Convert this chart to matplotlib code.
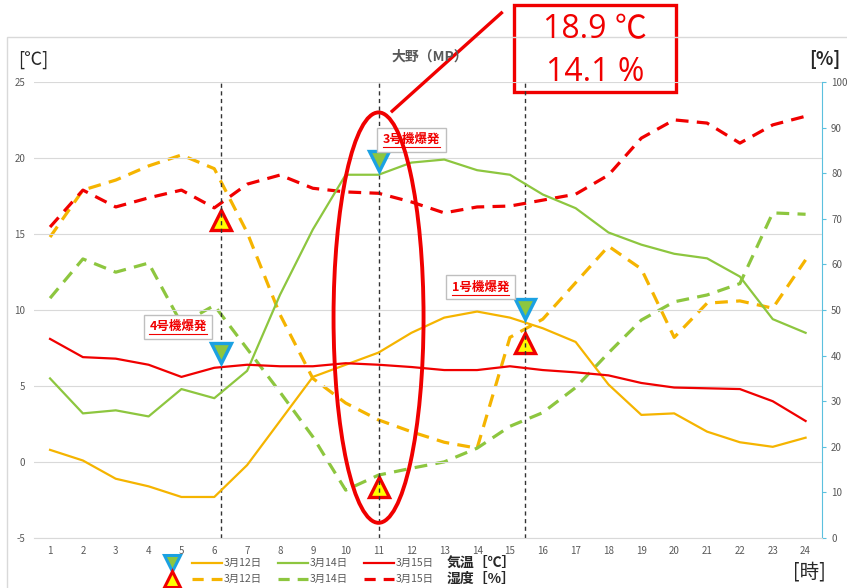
import matplotlib
matplotlib.use("Agg")
import matplotlib.pyplot as plt
from matplotlib.patches import Ellipse, Rectangle
from matplotlib.lines import Line2D

plt.rcParams["font.family"] = ["Noto Sans CJK JP", "DejaVu Sans"]
plt.rcParams["axes.unicode_minus"] = False

# data (hourly, 大野)
hours = list(range(1, 25))
temp_0312 = [0.8, 0.1, -1.1, -1.6, -2.3, -2.3, -0.2, 2.7, 5.6, 6.4, 7.2, 8.5,
             9.5, 9.9, 9.5, 8.8, 7.9, 5.1, 3.1, 3.2, 2.0, 1.3, 1.0, 1.6]
temp_0314 = [5.5, 3.2, 3.4, 3.0, 4.8, 4.2, 6.0, 11.0, 15.3, 18.9, 18.9, 19.7,
             19.9, 19.2, 18.9, 17.6, 16.7, 15.1, 14.3, 13.7, 13.4, 12.2, 9.4, 8.5]
temp_0315 = [8.1, 6.9, 6.8, 6.4, 5.6, 6.2, 6.4, 6.3, 6.3, 6.5, 6.4, 6.25,
             6.05, 6.05, 6.3, 6.05, 5.9, 5.7, 5.2, 4.9, 4.85, 4.8, 4.0, 2.7]
hum_0312 = [66, 76.3, 78.5, 81.6, 84, 81, 67, 49, 35, 29.6, 25.9, 23.3,
            21, 19.7, 44, 48, 56, 64, 59, 44, 51.5, 52, 50.4, 61]
hum_0314 = [52.6, 61.2, 58.3, 60.3, 47, 51, 41.5, 32, 22.2, 10.5, 13.8, 15.3,
            16.7, 19.7, 24.5, 27.5, 33, 40.6, 47.8, 51.8, 53.3, 55.8, 71.3, 71]
hum_0315 = [68.2, 76.3, 72.6, 74.6, 76.3, 72.4, 77.6, 79.6, 76.7, 75.9, 75.6, 73.7,
            71.3, 72.6, 72.8, 74.1, 75.4, 79.6, 87.7, 91.7, 91.0, 86.6, 90.6, 92.5]

# explosions
event_x = [6.2, 11.0, 15.45]
event_temp = [7.2, 19.8, 10.1]
event_hum = [69.7, 11.2, 42.8]
event_labels = ["4号機爆発", "3号機爆発", "1号機爆発"]

series_labels = ["3月12日", "3月14日", "3月15日"]
YELLOW = "#F5B400"
GREEN = "#8DC63F"
RED = "#F00000"
GRAY = "#595959"

fig = plt.figure(figsize=(8.47, 5.88), dpi=100)
ax = fig.add_axes([0.0397, 0.085, 0.9308, 0.7755])
ax2 = ax.twinx()

ax.set_xlim(0.5, 24.5)
ax.set_ylim(-5, 25)
ax2.set_ylim(0, 100)
ax.set_yticks(range(-5, 26, 5))
ax2.set_yticks(range(0, 101, 10))
ax.set_xticks(hours)

ax.grid(axis="y", color="#d9d9d9", lw=0.8)
ax.set_axisbelow(True)
for s in ["left", "top", "right"]:
    ax.spines[s].set_visible(False)
    ax2.spines[s].set_visible(False)
ax.spines["bottom"].set_color("#d9d9d9")
ax2.spines["bottom"].set_visible(False)
ax2.spines["right"].set_visible(True)
ax2.spines["right"].set_color("#5BC0DE")
ax.tick_params(axis="both", length=0, labelsize=7, labelcolor=GRAY, pad=6)
ax2.tick_params(axis="y", length=3, color="#5BC0DE", labelsize=7, labelcolor=GRAY)

ax.set_zorder(ax2.get_zorder() + 1)
ax.patch.set_visible(False)

# vertical explosion lines
for x in event_x:
    ax.axvline(x, color="#333333", lw=1, ls=(0, (3, 2.5)), zorder=1)

# humidity (right axis)
dash = (0, (4, 2.6))
ax2.plot(hours, hum_0312, color=YELLOW, lw=2.3, ls=dash)
ax2.plot(hours, hum_0314, color=GREEN, lw=2.3, ls=dash)
ax2.plot(hours, hum_0315, color=RED, lw=2.3, ls=dash)

# temperature (left axis)
ax.plot(hours, temp_0312, color=YELLOW, lw=1.6, zorder=3)
ax.plot(hours, temp_0314, color=GREEN, lw=1.6, zorder=3)
ax.plot(hours, temp_0315, color=RED, lw=1.6, zorder=3)

# markers
ax.plot(event_x, event_temp, ls="none", marker="v", ms=14, mfc=GREEN,
        mec="#1BA1E2", mew=2.4, zorder=5)
ax2.plot(event_x, event_hum, ls="none", marker="^", ms=14, mfc="#FFFF00",
         mec=RED, mew=2.4, zorder=5)

# explosion labels
label_pos = [(4.9, 8.9), (12.0, 21.2), (14.1, 11.5)]
label_texts = []
for (lx, ly), txt in zip(label_pos, event_labels):
    t = ax.text(lx, ly, txt, color=RED, fontsize=9, fontweight="bold",
                ha="center", va="center", zorder=6,
                bbox=dict(boxstyle="square,pad=0.45", fc="white", ec="#bfbfbf", lw=1))
    label_texts.append(t)

# red ellipse around 11 o'clock
ax.add_patch(Ellipse((11.0, 9.5), 2.74, 27.0, fill=False, ec=RED, lw=2.8,
                     zorder=7, clip_on=False))

# callout box
fig.add_artist(Line2D([0.463, 0.592], [0.811, 0.978], color=RED, lw=2.4))
fig.add_artist(Rectangle((0.607, 0.843), 0.191, 0.149, fill=True, fc="white",
                         ec=RED, lw=2.4, transform=fig.transFigure))
fig.text(0.7025, 0.949, "18.9 ℃", color=RED, fontsize=23, ha="center", va="center",
         family=["Open Sans", "Noto Sans CJK JP"])
fig.text(0.7025, 0.876, "14.1 %", color=RED, fontsize=23, ha="center", va="center",
         family=["Open Sans", "Noto Sans CJK JP"])

# outer chart border
fig.add_artist(Rectangle((0.008, -0.02), 1.1, 0.957, fill=False, ec="#d9d9d9",
                         lw=1, transform=fig.transFigure))

# titles and units
fig.text(0.508, 0.903, "大野（MP）", color=GRAY, fontsize=10, fontweight="bold",
         ha="center", va="center")
fig.text(0.039, 0.898, "[℃]", color="#262626", fontsize=13, ha="center", va="center")
fig.text(0.974, 0.898, "[%]", color="#262626", fontsize=13, fontweight="bold",
         ha="center", va="center")
fig.text(0.956, 0.027, "[時]", color="#262626", fontsize=14, ha="center", va="center")

# legend drawn by hand
W, H = 847.0, 588.0
rows = [(563, "-", 1.6, "v", GREEN, "#1BA1E2", "気温［℃］"),
        (579, (0, (3.5, 2.5)), 2.3, "^", "#FFFF00", RED, "湿度［%］")]
colors = [YELLOW, GREEN, RED]
starts = [192, 278, 364]
for y, ls, lw, mk, mfc, mec, name in rows:
    fy = 1 - y / H
    fig.add_artist(Line2D([172 / W], [fy], marker=mk, ms=12, mfc=mfc, mec=mec,
                          mew=2.2, ls="none"))
    for x0, c, lab in zip(starts, colors, series_labels):
        fig.add_artist(Line2D([x0 / W, (x0 + 30) / W], [fy, fy], color=c, lw=lw, ls=ls))
        fig.text((x0 + 32) / W, fy, lab, color=GRAY, fontsize=7.5, va="center")
    fig.text(447 / W, fy, name, color="#262626", fontsize=10, fontweight="bold",
             va="center")

# underline the explosion labels
fig.canvas.draw()
r = fig.canvas.get_renderer()
inv = fig.transFigure.inverted()
for t in label_texts:
    bb = t.get_window_extent(renderer=r)
    (x0, y0), (x1, y1) = inv.transform([(bb.x0, bb.y0), (bb.x1, bb.y0)])
    fig.add_artist(Line2D([x0, x1], [y0 - 0.002, y1 - 0.002], color=RED, lw=0.8,
                          zorder=10))

fig.savefig("out.png", dpi=100)
